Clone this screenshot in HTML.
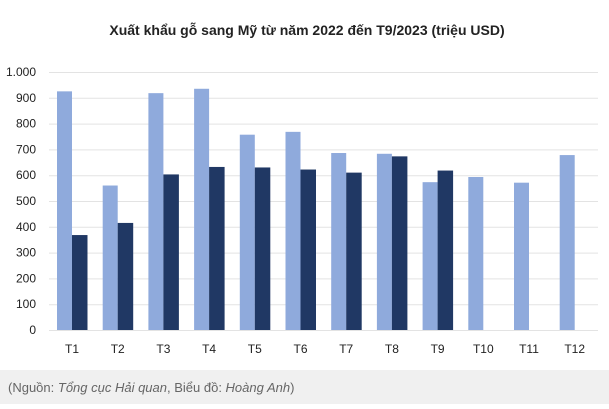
<!DOCTYPE html>
<html><head><meta charset="utf-8"><style>
body{margin:0;width:609px;height:404px;background:#fff;overflow:hidden;font-family:"Liberation Sans",sans-serif}
</style></head><body>
<svg width="609" height="404" xmlns="http://www.w3.org/2000/svg" font-family="Liberation Sans, sans-serif">
<rect x="0" y="370" width="609" height="34" fill="#f0f0f0"/>
<text x="307" y="35" text-anchor="middle" font-size="14" font-weight="bold" fill="#222">Xuất khẩu gỗ sang Mỹ từ năm 2022 đến T9/2023 (triệu USD)</text>
<g id="grid" stroke="#e3e3e3" stroke-width="1"></g>
<g id="bars"></g>
<g id="lbl" font-size="12" fill="#222"></g>
<text x="8" y="392" font-size="13" fill="#666">(Nguồn: <tspan font-style="italic">Tổng cục Hải quan</tspan>, Biểu đồ: <tspan font-style="italic">Hoàng Anh</tspan>)</text>
</svg>
<script>
const ns="http://www.w3.org/2000/svg";
function el(p,t,a,txt){const e=document.createElementNS(ns,t);for(const k in a)e.setAttribute(k,a[k]);if(txt)e.textContent=txt;document.getElementById(p).appendChild(e);}
const y0=330,s=0.258;
const labs=["0","100","200","300","400","500","600","700","800","900","1.000"];
for(let i=0;i<=10;i++){const y=y0-i*100*s;el("grid","line",{x1:49,x2:598,y1:y+.5,y2:y+.5});el("lbl","text",{x:36,y:y+4,"text-anchor":"end"},labs[i]);}
const a=[925,560,918,935,757,768,686,683,573,593,571,678],b=[368,415,603,632,630,622,610,673,618];
for(let i=0;i<12;i++){const c=72+i*45.7;
el("bars","rect",{x:c-15,y:y0-a[i]*s,width:15,height:a[i]*s,fill:"#8faadc"});
if(i<9)el("bars","rect",{x:c,y:y0-b[i]*s,width:15.5,height:b[i]*s,fill:"#203864"});
el("lbl","text",{x:c,y:353,"text-anchor":"middle"},"T"+(i+1));}
</script>
</body></html>
